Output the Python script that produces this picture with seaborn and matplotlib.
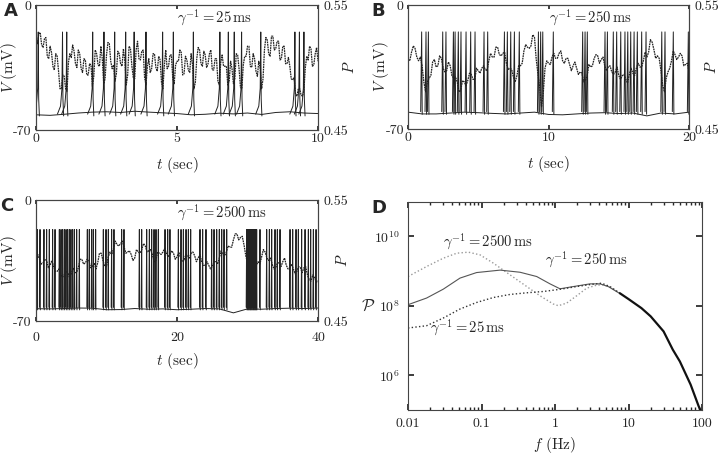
import numpy as np
import pandas as pd
import seaborn as sns
import matplotlib
matplotlib.use('Agg')
from matplotlib import pyplot as plt
from matplotlib import ticker

# ---- panel A (gamma^-1 = 25 ms), 10 s, P sampled every 0.05 s ----
spikes_a = [0.08, 0.94, 1.09, 2.01, 2.41, 2.79, 3.18, 3.48, 3.90, 4.49, 4.87,
            5.58, 6.52, 6.82, 7.03, 7.29, 7.97, 9.18, 9.34, 9.50]
base_a = [-61.5, -61.8, -61.2, -60.5, -60.0, -59.8, -60.2, -59.5, -60.0, -60.4, -60.8,
          -61.5, -61.2, -60.6, -61.0, -60.5, -61.3, -60.2, -59.8, -60.5, -60.8]
p_a = [.525, .519, .527, .528, .518, .516, .523, .524, .509, .507,
       .517, .512, .501, .498, .511, .509, .497, .483, .483, .494,
       .493, .483, .481, .504, .511, .508, .518, .513, .503, .500,
       .514, .511, .499, .496, .507, .506, .494, .494, .503, .502,
       .485, .493, .514, .511, .502, .501, .517, .507, .487, .491,
       .510, .520, .519, .505, .499, .502, .489, .495, .513, .511,
       .503, .501, .515, .505, .486, .494, .517, .515, .501, .492,
       .491, .514, .521, .507, .506, .513, .514, .492, .486, .501,
       .507, .496, .499, .511, .511, .500, .497, .509, .506, .488,
       .483, .501, .514, .499, .501, .510, .510, .491, .487, .502,
       .505, .505, .514, .512, .494, .495, .509, .506, .498, .496,
       .511, .502, .483, .488, .507, .516, .514, .503, .501, .513,
       .510, .500, .503, .511, .514, .498, .498, .507, .507, .489,
       .486, .504, .510, .501, .501, .501, .486, .489, .505, .499,
       .487, .491, .511, .510, .499, .484, .483, .502, .509, .509,
       .517, .517, .501, .500, .511, .507, .497, .493, .505, .499,
       .483, .491, .514, .524, .522, .511, .509, .525, .525, .514,
       .515, .521, .521, .506, .507, .517, .517, .503, .503, .508,
       .501, .491, .490, .492, .479, .477, .483, .483, .478, .477,
       .482, .500, .509, .506, .517, .515, .501, .502, .511, .516,
       .505]

# ---- panel B (gamma^-1 = 250 ms), 20 s, P every 0.125 s ----
spikes_b = [0.97, 1.28, 1.45, 2.47, 2.70, 3.23, 3.35, 3.58, 3.77, 4.13, 4.46, 4.77,
            5.41, 5.67, 6.86, 7.07, 7.31, 7.57, 7.92, 9.28, 9.44, 9.59, 10.34,
            12.43, 12.60, 12.76, 14.02, 14.19, 14.61, 14.85, 15.14, 15.44, 15.64,
            15.85, 16.09, 16.32, 16.63, 16.94, 18.06, 18.29, 18.88, 19.95]
base_b = [-60.5, -61.5, -61.5, -61.0, -60.5, -60.8, -61.2, -61.5, -61.0, -60.5, -61.8,
          -62.0, -61.5, -61.0, -60.8, -61.3, -61.0, -62.6, -61.0, -61.5, -60.5]
p_b = [.506, .505, .512, .517, .515, .508, .505, .508, .501, .488,
       .480, .488, .491, .493, .504, .506, .500, .501, .509, .507,
       .499, .496, .497, .504, .501, .493, .491, .492, .488, .480,
       .481, .489, .488, .485, .489, .495, .494, .490, .490, .499,
       .497, .495, .499, .501, .498, .497, .505, .511, .508, .508,
       .516, .516, .510, .509, .511, .512, .503, .498, .499, .498,
       .492, .488, .493, .501, .501, .503, .513, .518, .516, .515,
       .517, .526, .524, .506, .494, .483, .468, .479, .499, .505,
       .503, .502, .508, .511, .507, .507, .511, .513, .505, .503,
       .507, .507, .502, .497, .501, .504, .499, .494, .496, .495,
       .488, .489, .493, .502, .500, .501, .507, .510, .509, .503,
       .506, .508, .501, .497, .500, .501, .496, .494, .496, .500,
       .493, .490, .493, .494, .490, .487, .494, .499, .495, .493,
       .499, .503, .500, .500, .505, .512, .508, .512, .522, .520,
       .514, .507, .509, .507, .497, .485, .480, .491, .496, .499,
       .505, .513, .510, .506, .508, .511, .509, .501, .502, .503,
       .496]

# ---- panel C (gamma^-1 = 2500 ms), 40 s, P every 0.25 s ----
spikes_c = [0.19, 0.57, 1.13, 1.51, 1.89, 2.36, 2.70, 3.31, 3.55, 3.78, 4.02, 4.26,
            4.49, 4.73, 4.96, 5.20, 5.44, 5.77, 6.15, 7.28, 7.56, 7.90, 8.13, 8.46,
            9.55, 9.93, 10.26, 10.73, 11.06, 12.15, 12.48, 14.66, 14.99, 15.70, 16.08,
            16.41, 16.74, 17.02, 17.35, 18.30, 18.68, 19.00, 20.19, 20.57, 20.90,
            21.28, 21.61, 21.94, 23.26, 23.64, 24.11, 24.92, 25.25, 25.63, 26.00,
            26.34, 26.67, 27.05, 29.88, 29.97, 30.08, 30.16, 30.27, 30.36, 30.44,
            30.55, 30.63, 30.74, 30.82, 30.93, 31.02, 31.11, 31.22, 31.30, 31.77,
            32.72, 33.10, 33.43, 33.90, 34.23, 34.61, 36.03, 36.41, 36.88, 37.21,
            37.68, 38.16, 38.63, 38.96, 39.34, 39.72]
base_c = [-62.9, -63.0, -62.8, -62.5, -62.6, -63.5, -63.4, -62.8, -63.2, -63.0, -63.5,
          -63.2, -62.8, -63.0, -65.3, -63.0, -63.2, -62.8, -62.6, -62.8, -62.5]
p_c = [.503, .505, .501, .497, .498, .501, .500, .494, .496, .500,
       .495, .491, .491, .493, .489, .486, .488, .491, .490, .486,
       .489, .494, .490, .490, .494, .501, .501, .497, .498, .501,
       .500, .494, .495, .498, .493, .498, .506, .506, .500, .495,
       .495, .503, .507, .505, .510, .516, .513, .512, .514, .516,
       .511, .506, .507, .508, .505, .500, .502, .509, .507, .506,
       .509, .514, .512, .507, .508, .509, .505, .499, .500, .507,
       .506, .505, .507, .510, .506, .503, .505, .508, .506, .501,
       .503, .507, .502, .499, .500, .505, .504, .502, .506, .507,
       .504, .499, .502, .505, .499, .496, .496, .499, .496, .493,
       .495, .499, .499, .497, .502, .508, .505, .504, .507, .512,
       .511, .511, .517, .522, .522, .517, .519, .520, .513, .504,
       .498, .495, .485, .484, .488, .496, .499, .497, .503, .509,
       .507, .502, .500, .502, .497, .493, .494, .498, .498, .495,
       .499, .502, .496, .493, .494, .497, .493, .489, .491, .495,
       .494, .490, .494, .495, .488, .484, .483, .488, .486, .482,
       .483]

# ---- panel D: power spectra ----
f_2500 = [0.01, 0.0179, 0.0302, 0.046, 0.0662, 0.0955, 0.145, 0.244, 0.412, 0.625,
          0.948, 1.11, 1.44, 1.97, 2.70, 3.69, 4.54, 5.6, 7.65]
pw_2500 = [7.0e8, 1.36e9, 2.36e9, 3.29e9, 3.52e9, 2.94e9, 1.70e9, 7.83e8, 3.61e8, 1.95e8,
           1.13e8, 1.01e8, 1.2e8, 1.95e8, 3.24e8, 3.95e8, 4.04e8, 3.47e8, 2.33e8]
f_250 = [0.01, 0.0179, 0.0302, 0.0509, 0.0856, 0.179, 0.334, 0.563, 0.855, 1.17,
         1.78, 2.99, 4.1, 5.3, 7.65]
pw_250 = [1.08e8, 1.68e8, 3.03e8, 6.3e8, 9.1e8, 1.07e9, 9.3e8, 7.0e8, 4.3e8, 3.1e8,
          3.6e8, 4.3e8, 4.3e8, 3.6e8, 2.25e8]
f_25 = [0.01, 0.0179, 0.0302, 0.0509, 0.0856, 0.145, 0.244, 0.412, 0.70, 1.17, 1.97,
        2.99, 4.3, 5.6, 7.65]
pw_25 = [2.3e7, 2.68e7, 4.46e7, 8.1e7, 1.25e8, 1.74e8, 2.13e8, 2.38e8, 2.6e8, 3.0e8,
         3.6e8, 4.1e8, 4.5e8, 3.6e8, 2.3e8]
f_tail = [7.65, 10, 15, 20, 30, 40, 50, 70, 90, 95]
pw_tail = [2.3e8, 1.57e8, 8.6e7, 5.0e7, 1.84e7, 5.5e6, 2.5e6, 5.4e5, 1.29e5, 1.0e5]

sns.set_theme(style='ticks')
plt.rcParams['font.family'] = ['cmr10', 'DejaVu Serif']
plt.rcParams['mathtext.fontset'] = 'cm'
plt.rcParams['axes.formatter.use_mathtext'] = True
plt.rcParams['axes.linewidth'] = 0.8
plt.rcParams['axes.edgecolor'] = '#444444'

fig = plt.figure(figsize=(7.2, 4.54), dpi=100)
ax_a = fig.add_axes([0.05, 0.7137, 0.3917, 0.2753])
ax_b = fig.add_axes([0.5667, 0.7159, 0.3903, 0.2731])
ax_c = fig.add_axes([0.05, 0.2930, 0.3917, 0.2665])
ax_d = fig.add_axes([0.5667, 0.0969, 0.4083, 0.4588])


def spike_frame(times, base, shape_dt, shape_dv):
    rows = []
    for i, ts in enumerate(times):
        for dt, dv in zip(shape_dt, shape_dv):
            rows.append({'spike': i, 't': ts + dt, 'v': base + dv})
    return pd.DataFrame(rows)


def trace_panel(ax, t_end, ticks, spikes, base, p, shape_dt, shape_dv, gamma,
                xpad, plab_x):
    bt = np.linspace(0, t_end, len(base))
    pt = np.linspace(0, t_end, len(p))
    sns.lineplot(x=bt, y=base, ax=ax, color='#222222', lw=0.7)
    df = spike_frame(spikes, np.mean(base), shape_dt, shape_dv)
    sns.lineplot(data=df, x='t', y='v', units='spike', estimator=None, sort=False,
                 ax=ax, color='#222222', lw=0.7)
    ax.set_xlim(0, t_end)
    ax.set_ylim(-70, 0)
    ax.set_xticks(ticks)
    ax.set_xticklabels([str(k) for k in ticks])
    ax.set_yticks([-70, 0])
    ax.set_yticklabels(['-70', '0'])
    ax.tick_params(axis='x', direction='in', top=True, length=3, pad=xpad, labelsize=10)
    ax.tick_params(axis='y', length=0, pad=3, labelsize=10)
    ax.set_xlabel(r'$t$ (sec)', fontsize=11)
    ax.set_ylabel(r'$V$ (mV)', fontsize=11)
    ax.yaxis.set_label_coords(-0.062, 0.5)
    axr = ax.twinx()
    sns.lineplot(x=pt, y=p, ax=axr, color='#222222', lw=0.9, linestyle=(0, (1.4, 0.6)))
    axr.set_ylim(0.45, 0.55)
    axr.set_yticks([0.45, 0.55])
    axr.set_yticklabels(['0.45', '0.55'])
    axr.tick_params(axis='y', length=0, pad=4, labelsize=10)
    axr.set_ylabel(r'$P$', fontsize=11, rotation=90)
    axr.yaxis.set_label_coords(plab_x, 0.5)
    ax.text(0.5, 0.895, gamma, transform=ax.transAxes, ha='left', va='center',
            fontsize=10.5)
    return axr


# spike waveform: slow foot, sharp upstroke, quick reset
shape_a_dt = [-0.18, -0.07, -0.02, 0.0, 0.015, 0.04]
shape_a_dv = [-0.5, 4.0, 14.0, 45.5, 8.0, -1.5]
shape_bc_dt = [-0.07, 0.0, 0.04]
shape_bc_dv = [1.0, 46.0, -0.5]

trace_panel(ax_a, 10, [0, 5, 10], spikes_a, base_a, p_a, shape_a_dt, shape_a_dv,
            r'$\gamma^{-1} = 25\,\mathrm{ms}$', 2, 1.085)
ax_a.xaxis.set_label_coords(0.5, -0.2)
trace_panel(ax_b, 20, [0, 10, 20], spikes_b, base_b, p_b, shape_bc_dt, shape_bc_dv,
            r'$\gamma^{-1} = 250\,\mathrm{ms}$', 2, 1.055)
ax_b.xaxis.set_label_coords(0.5, -0.2)
trace_panel(ax_c, 40, [0, 20, 40], spikes_c, base_c, p_c, shape_bc_dt, shape_bc_dv,
            r'$\gamma^{-1} = 2500\,\mathrm{ms}$', 8, 1.06)
ax_c.xaxis.set_label_coords(0.5, -0.245)

# spectra
sns.lineplot(x=f_2500, y=pw_2500, ax=ax_d, color='#9a9a9a', lw=1.0, linestyle=':')
sns.lineplot(x=f_250, y=pw_250, ax=ax_d, color='#555555', lw=0.8)
sns.lineplot(x=f_25, y=pw_25, ax=ax_d, color='#333333', lw=1.0, linestyle=':')
sns.lineplot(x=f_tail, y=pw_tail, ax=ax_d, color='#111111', lw=1.6)
ax_d.set_xscale('log')
ax_d.set_yscale('log')
ax_d.set_xlim(0.01, 100)
ax_d.set_ylim(1e5, 1e11)
ax_d.set_xticks([0.01, 0.1, 1, 10, 100])
ax_d.set_xticklabels(['0.01', '0.1', '1', '10', '100'])
ax_d.set_yticks([1e6, 1e8, 1e10])
ax_d.set_yticklabels([r'$10^{6}$', r'$10^{8}$', r'$10^{10}$'])
ax_d.yaxis.set_minor_locator(ticker.NullLocator())
ax_d.tick_params(which='both', direction='in', top=True, right=True, labelsize=10)
ax_d.tick_params(which='major', length=4, pad=6)
ax_d.tick_params(which='minor', length=2)
ax_d.set_xlabel(r'$f$ (Hz)', fontsize=11)
ax_d.xaxis.set_label_coords(0.5, -0.122)
ax_d.set_ylabel(r'$\mathcal{P}$', fontsize=12, rotation=0, ha='right', va='center')
ax_d.yaxis.set_label_coords(-0.11, 0.5)
ax_d.text(0.030, 7.1e9, r'$\gamma^{-1} = 2500\,\mathrm{ms}$', ha='left', va='center', fontsize=10.5)
ax_d.text(0.73, 2.1e9, r'$\gamma^{-1} = 250\,\mathrm{ms}$', ha='left', va='center', fontsize=10.5)
ax_d.text(0.020, 2.3e7, r'$\gamma^{-1} = 25\,\mathrm{ms}$', ha='left', va='center', fontsize=10.5)

for lab, x, y in [('A', 0.006, 0.995), ('B', 0.516, 0.995), ('C', 0.0, 0.565), ('D', 0.516, 0.562)]:
    fig.text(x, y, lab, ha='left', va='top', fontsize=13, fontweight='bold',
             family='DejaVu Sans')

fig.savefig('out.png', dpi=100)
